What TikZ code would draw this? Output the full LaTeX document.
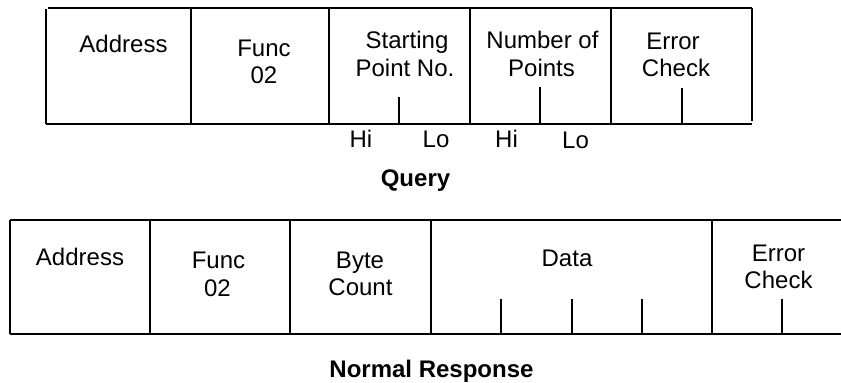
\documentclass[tikz,border=0pt]{standalone}
\usepackage{fontspec}
\setmainfont{Liberation Sans}
\begin{document}
\begin{tikzpicture}[x=0.5pt,y=-0.5pt,line width=0.9pt,
  lbl/.style={anchor=base,inner sep=0pt,font=\fontsize{12}{14}\selectfont},
  ttl/.style={anchor=base,inner sep=0pt,font=\fontsize{12}{14}\selectfont\bfseries},
  rule/.style={line width=0.9pt}]
\useasboundingbox (0,0) rectangle (841,383);

% ---------- Query frame ----------
\draw[rule] (48,8) -- (752,8);
\draw[rule] (46,9) -- (46,124);
\draw[rule] (46,124) -- (752,124);
\foreach \x in {191,329,470,611} \draw[rule] (\x,9) -- (\x,124);
\draw[rule] (752,8) -- (752,121);
\foreach \x/\t in {399/97,540/87,682/88} \draw[rule] (\x,\t) -- (\x,124);

\node[lbl] (qaddr) at (123.5,53) {Address};
\node[lbl] (qfunc) at (264,57) {Func};
\node[lbl] (qfunc2) at (264,84) {02};
\node[lbl] (qstart) at (407,49) {Starting};
\node[lbl] (qstart2) at (405,77) {Point No.};
\node[lbl] (qnum) at (542.5,49) {Number of};
\node[lbl] (qnum2) at (541.5,77) {Points};
\node[lbl] (qerr) at (673,50) {Error};
\node[lbl] (qerr2) at (676,77) {Check};

\node[lbl] (hi1) at (361,148) {Hi};
\node[lbl] (lo1) at (436,148) {Lo};
\node[lbl] (hi2) at (506.5,148) {Hi};
\node[lbl] (lo2) at (575.5,149) {Lo};

\node[ttl] (query) at (415.5,187) {Query};

% ---------- Normal response frame ----------
\draw[rule] (10,220) -- (841,220);
\draw[rule] (10,334) -- (841,334);
\draw[rule] (10,220) -- (10,334);
\foreach \x in {150,290,431,712} \draw[rule] (\x,221) -- (\x,334);
\foreach \x in {501,572,642,782} \draw[rule] (\x,299) -- (\x,334);

\node[lbl] (raddr) at (80,266) {Address};
\node[lbl] (rfunc) at (218.5,269) {Func};
\node[lbl] (rfunc2) at (217.5,297) {02};
\node[lbl] (rbyte) at (360,269) {Byte};
\node[lbl] (rbyte2) at (360.5,296) {Count};
\node[lbl] (rdata) at (567,267) {Data};
\node[lbl] (rerr) at (778.5,262) {Error};
\node[lbl] (rerr2) at (778.5,289) {Check};

\node[ttl] (resp) at (431.5,378) {Normal Response};
\end{tikzpicture}
\end{document}
